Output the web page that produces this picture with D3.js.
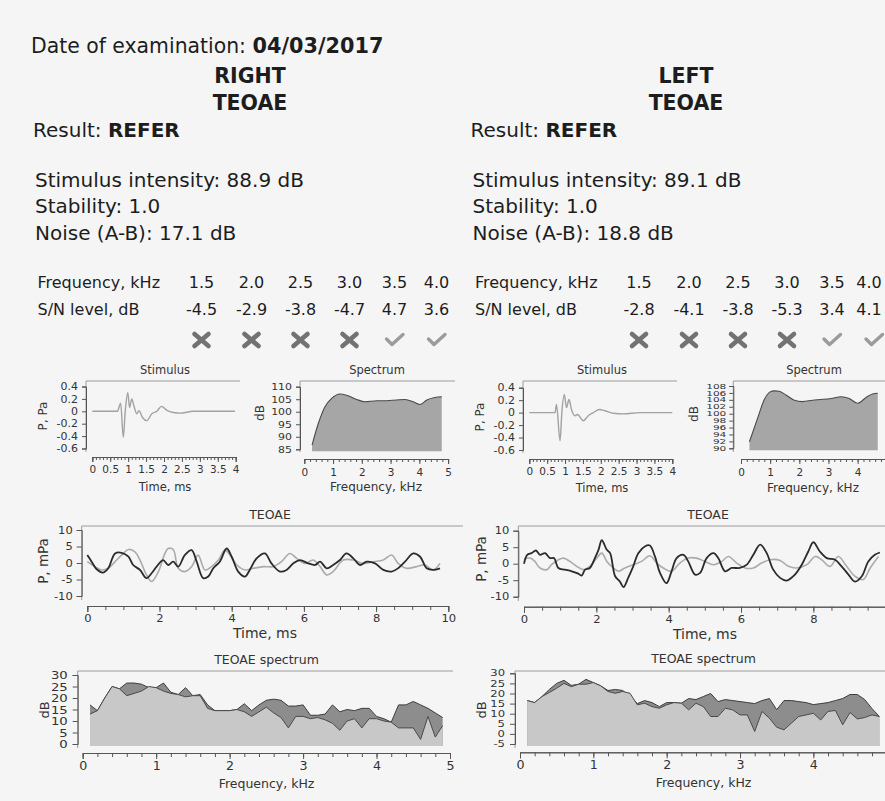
<!DOCTYPE html>
<html><head><meta charset="utf-8">
<script src="https://cdn.jsdelivr.net/npm/d3@7"></script>
<style>
html,body{margin:0;padding:0;background:#f5f5f5;overflow:hidden;}
svg{display:block;font-family:"DejaVu Sans",sans-serif;}
</style></head><body>
<svg id="c" width="885" height="801"></svg>
<script>
// ---------------- DATA ----------------
const examDate = "04/03/2017";
const earNames = ["RIGHT", "LEFT"];
const results = ["REFER", "REFER"];
const stimIntensity = ["88.9", "89.1"];
const stability = ["1.0", "1.0"];
const noiseAB = ["17.1", "18.8"];
const bandFreqs = ["1.5", "2.0", "2.5", "3.0", "3.5", "4.0"];
const snRight = ["-4.5", "-2.9", "-3.8", "-4.7", "4.7", "3.6"];
const snLeft = ["-2.8", "-4.1", "-3.8", "-5.3", "3.4", "4.1"];
const passRight = [false, false, false, false, true, true];
const passLeft = [false, false, false, false, true, true];

// stimulus waveform (ms, Pa)
const stimTimeR = [0,0.7,0.79,0.865,0.92,0.99,1.04,1.1,1.16,1.24,1.3,1.4,1.52,1.66,1.8,1.93,2.07,2.26,2.45,2.82,3.75,3.98];
const stimValR  = [0,0,0.13,-0.42,0.01,0.3,0.06,0.2,0.09,-0.04,0.01,-0.1,-0.15,-0.04,0,0.08,0.02,-0.02,-0.03,0,0,0];
const stimTimeL = [0,0.72,0.76,0.86,0.91,0.98,1.04,1.11,1.18,1.28,1.35,1.51,1.65,1.79,1.96,2.12,2.35,2.63,3.1,4.0];
const stimValL  = [0,0,0.13,-0.45,0,0.29,0.08,0.21,0.05,-0.05,-0.03,-0.13,-0.05,0,0.05,0.03,-0.01,-0.02,0,0];

// stimulus spectrum (kHz, dB)
const specFreqR = [0.27,0.49,0.72,0.95,1.24,1.47,1.82,2.11,2.52,2.86,3.21,3.5,3.79,4.02,4.26,4.54,4.78];
const specDbR   = [86.7,95.4,102,105.3,107.1,106.6,104.9,104,104.4,104.4,104.7,104.9,104,102.9,104.7,105.7,106];
const specFreqL = [0.29,0.57,0.8,1.0,1.14,1.31,1.54,1.83,2.11,2.46,2.74,3.09,3.43,3.71,4.0,4.29,4.51,4.69];
const specDbL   = [91.9,98.7,104.1,106.3,106.6,106.5,105.4,103.9,103.5,103.9,104.1,104.4,104.9,104.4,103.0,104.7,105.7,105.9];

// TEOAE waveforms (ms, mPa): A (dark) and B (light)
const teoaeTimeRA = [0,0.12,0.26,0.44,0.58,0.77,0.95,1.14,1.27,1.46,1.64,1.78,1.92,2.1,2.24,2.38,2.52,2.7,2.89,3.03,3.21,3.35,3.49,3.67,3.86,4.0,4.18,4.37,4.5,4.69,4.92,5.1,5.34,5.52,5.71,5.89,6.12,6.31,6.45,6.63,6.81,7.0,7.18,7.37,7.55,7.74,7.97,8.2,8.43,8.61,8.8,9.03,9.22,9.4,9.58,9.77];
const teoaeValRA  = [2.4,0.4,-1.9,-2.9,-1.6,2.9,3.1,1.9,-0.6,-2.1,-4.6,-3.1,-1.1,0.9,-0.6,0.4,-1.1,2.4,3.9,0.4,-4.6,-4.1,-1.6,0.4,4.4,1.9,-2.6,-4.1,-2.1,1.4,2.9,-0.1,-2.6,-2.1,-0.1,0.9,-0.1,-0.6,0.4,-1.6,-0.6,0.9,2.9,1.4,-0.6,0.4,-0.1,-2.1,-2.6,-1.6,0.4,2.9,1.9,-1.6,-2.1,-1.6];
const teoaeTimeRB = [0,0.21,0.4,0.58,0.77,0.95,1.14,1.32,1.46,1.64,1.78,1.97,2.15,2.24,2.38,2.52,2.7,2.89,3.07,3.26,3.44,3.63,3.81,3.95,4.14,4.37,4.6,4.88,5.15,5.38,5.61,5.8,6.03,6.26,6.45,6.63,6.81,7.09,7.37,7.65,7.92,8.2,8.43,8.61,8.84,9.12,9.35,9.58,9.77];
const teoaeValRB  = [0.4,-1.1,-2.1,-1.6,0.4,2.4,4.1,3.4,0.9,-3.6,-5.6,-2.6,2.9,4.4,4.1,-1.6,-2.6,-1.1,2.4,-2.1,-1.1,0.9,3.9,2.4,-0.6,-2.1,-1.6,-1.1,-1.1,0.4,2.9,1.4,-0.1,0.9,-1.1,-3.6,-2.6,0.9,0.9,-0.1,0.4,0.9,2.4,-0.1,-1.6,-1.1,-0.6,-2.1,-0.1];
const teoaeTimeLA = [0,0.09,0.21,0.33,0.44,0.58,0.72,0.83,0.95,1.13,1.32,1.5,1.59,1.69,1.82,1.96,2.06,2.15,2.29,2.38,2.52,2.65,2.75,2.88,3.02,3.16,3.35,3.48,3.62,3.76,3.94,4.08,4.22,4.41,4.54,4.73,4.87,5.05,5.24,5.37,5.56,5.74,5.97,6.16,6.34,6.53,6.71,6.89,7.08,7.26,7.49,7.68,7.86,8.0,8.18,8.37,8.6,8.78,8.97,9.15,9.34,9.52,9.7,9.84];
const teoaeValLA  = [0,2.7,3.2,4.0,2.7,3.2,1.7,1.7,-1.3,-1.8,-2.3,-3.0,-3.6,-1.8,-1.3,1.7,4.2,7.1,4.2,3.2,-3.8,-5.4,-7.1,-4.3,-0.8,3.2,5.3,5.5,2.2,-2.8,-5.9,-2.3,1.7,2.7,0.7,-3.3,-2.8,1.7,3.2,1.7,-2.3,-1.3,-1.3,-0.3,2.7,5.8,3.2,-1.8,-4.3,-5.1,-3.3,-0.3,3.7,6.5,3.7,1.7,1.2,-0.8,-3.3,-5.4,-3.8,0.7,2.7,3.4];
const teoaeTimeLB = [0,0.17,0.3,0.44,0.63,0.76,0.95,1.09,1.27,1.46,1.64,1.82,2.01,2.15,2.29,2.47,2.61,2.79,3.02,3.25,3.48,3.67,3.85,4.08,4.31,4.54,4.77,5.0,5.24,5.47,5.65,5.88,6.11,6.34,6.57,6.8,7.08,7.31,7.54,7.82,8.05,8.23,8.46,8.69,8.92,9.15,9.38,9.57,9.8];
const teoaeValLB  = [1.4,1.7,0.7,-1.3,-1.8,-0.3,1.2,1.7,0.7,-0.8,-1.8,-0.8,1.7,3.2,0.7,-1.3,-2.3,-1.3,-0.3,0.7,2.4,0.2,-1.3,-2.3,0.2,1.7,1.7,0.7,-0.3,0.7,2.2,0.2,-1.3,-1.3,0.2,1.2,1.0,-0.8,-1.3,-0.3,2.2,1.2,-0.8,2.2,-0.8,-3.8,-4.8,-1.3,2.2];

// TEOAE spectrum (kHz, dB): dark band and light band
const tsFreq = [0.1,0.2,0.3,0.4,0.5,0.6,0.7,0.8,0.9,1.0,1.1,1.2,1.3,1.4,1.5,1.6,1.7,1.8,1.9,2.0,2.1,2.2,2.3,2.4,2.5,2.6,2.7,2.8,2.9,3.0,3.1,3.2,3.3,3.4,3.5,3.6,3.7,3.8,3.9,4.0,4.1,4.2,4.3,4.4,4.5,4.6,4.7,4.8,4.9];
const tsLightR = [13,14.5,20,25,24,21,22,23,25,24.5,23,22,21.5,20.5,21,21,15.5,14.5,14.5,14.5,15,14,12,14,16,13.5,11.5,7,12,12,11,11.5,10.5,9,6,10,11,7,11,11,10,9.5,7,7,7,2,12,3,8];
const tsDarkR  = [17,14.5,20,25,24,26.5,26.5,26,24.5,24.5,26.5,22.5,21.5,24.5,21,21.5,17,14.5,14.5,14.5,15,17.5,14.5,17,19,19.5,19,16.5,16.5,17,12.5,12.5,13,17,14,15,14.5,15.5,15.5,12,11,9.5,17,17,18.5,17,15.5,13.5,11.5];
const tsLightL = [16.5,15.5,18.5,20.5,22.6,25,23.4,24.6,24.6,25.4,23.8,21,20.1,21,20.1,14.4,15.2,13.5,12.7,14.4,15.5,15.2,11.9,15.2,13.5,8.6,8.6,12.7,11.9,9.4,9.4,1.2,11.1,7.8,3.3,2.0,5.3,8.6,9.4,10.2,6.9,11.1,11.6,4.5,10.6,7.4,8.1,9.4,8.6];
const tsDarkL  = [16.5,15.5,18.5,22,25,26.5,24,24.6,27,25.4,23.8,21.5,22,21.5,18.5,15,16.5,15.5,13.5,15.5,15.5,15.2,17.5,17,18.5,20,16,17,16.5,16,15.5,15,16.5,17.5,12,16.5,16.5,16,15.5,14.5,15,15.5,16.5,17.5,19.5,19.5,17,12.5,8.6];

// tick labels
const stimTimeTicks = [0,0.5,1,1.5,2,2.5,3,3.5,4];
const stimPaTicks = [-0.6,-0.4,-0.2,0,0.2,0.4];
const specFreqTicksR = [0,1,2,3,4,5];
const specFreqTicksL = [0,1,2,3,4];
const specDbTicksR = [85,90,95,100,105,110];
const specDbTicksL = [90,92,94,96,98,100,102,104,106,108];
const teoaeTimeTicksR = [0,2,4,6,8,10];
const teoaeTimeTicksL = [0,2,4,6,8];
const teoaeMpaTicks = [-10,-5,0,5,10];
const tsDbTicksR = [0,5,10,15,20,25,30];
const tsDbTicksL = [-5,0,5,10,15,20,25,30];

// ---------------- LAYOUT / DRAW ----------------
const svg = d3.select("#c");
const W = 885;
const INK = "#1d1d1d", AX = "#555", FRAME = "#9c9c9c";
const fmt = d => String(+(+d).toFixed(2));

function txt(x, y, s, size, opts = {}) {
  return svg.append("text").attr("x", x).attr("y", y)
    .attr("font-size", size).attr("fill", opts.fill || INK)
    .attr("font-weight", opts.bold ? "bold" : null)
    .attr("text-anchor", opts.anchor || "start").text(s);
}
function vlabel(s, cx, cy, size) {
  svg.append("text").attr("transform", `translate(${cx},${cy}) rotate(-90)`)
    .attr("text-anchor", "middle").attr("dy", "0.36em")
    .attr("font-size", size).attr("fill", "#333").text(s);
}
function stretch(sel, sx) {
  sel.each(function () {
    const t = d3.select(this); const x = +t.attr("x") || 0;
    t.attr("transform", `translate(${x * (1 - sx)},0) scale(${sx},1)`);
  });
}
function styleAxis(g, fs, sx) {
  g.attr("font-family", null).attr("font-size", null);
  g.selectAll("path.domain").attr("stroke", AX);
  g.selectAll(".tick line").attr("stroke", AX);
  const t = g.selectAll(".tick text").attr("fill", "#333").attr("font-size", fs);
  if (sx && sx !== 1) stretch(t, sx);
}

function panel(c) {
  const x = d3.scaleLinear().domain(c.xd).range(c.xr);
  const y = d3.scaleLinear().domain(c.yd).range(c.yr);
  const g = svg.append("g");
  g.append("path").attr("d", `M${c.right},${c.top}H${c.axisX}V${c.frameBot}`)
    .attr("fill", "none").attr("stroke", FRAME).attr("stroke-width", 1);
  const ya = g.append("g").attr("transform", `translate(${c.axisX},0)`)
    .call(d3.axisLeft(y).tickValues(c.yTicks).tickSize(c.ytick).tickPadding(c.ypad).tickFormat(fmt));
  styleAxis(ya, c.yfs, c.ysx);
  const xm = g.append("g").attr("transform", `translate(0,${c.xAxisY})`)
    .call(d3.axisBottom(x).tickValues(c.xMinor).tickSize(c.minorTick).tickSizeOuter(0).tickFormat(""));
  styleAxis(xm, 1);
  const xa = g.append("g").attr("transform", `translate(0,${c.xAxisY})`)
    .call(d3.axisBottom(x).tickValues(c.xTicks).tickSize(c.majorTick).tickPadding(c.xpad).tickFormat(fmt));
  styleAxis(xa, c.xfs, c.xsx);
  txt(c.titleX, c.titleY, c.title, c.titleFs, { anchor: "middle", fill: "#333" });
  txt(c.xlabX, c.xlabY, c.xlab, c.xlabFs, { anchor: "middle", fill: "#333" });
  vlabel(c.ylab, c.ylabX, c.ylabY, c.ylabFs);
  return { g, x, y };
}

// ---- header texts
const hdr = svg.append("text").attr("x", 31).attr("y", 53).attr("font-size", 20.4).attr("fill", INK);
hdr.append("tspan").text("Date of examination: ");
hdr.append("tspan").attr("font-weight", "bold").attr("font-size", 20.8).text(examDate);

const cols = [
  { earX: 250, resX: 33, infoX: 35, tabX: 37.5 },
  { earX: 686, resX: 470.5, infoX: 472.5, tabX: 475 }
];
const colCenters = [164, 214, 263, 312, 357, 399];
const snAll = [snRight, snLeft], passAll = [passRight, passLeft];

cols.forEach((c, i) => {
  txt(c.earX, 82.5, earNames[i], 20.5, { bold: true, anchor: "middle" });
  txt(c.earX, 110, "TEOAE", 20.5, { bold: true, anchor: "middle" });
  const r = svg.append("text").attr("x", c.resX).attr("y", 136.5).attr("font-size", 20).attr("fill", INK);
  r.append("tspan").text("Result: ");
  r.append("tspan").attr("font-weight", "bold").text(results[i]);
  txt(c.infoX, 186.5, `Stimulus intensity: ${stimIntensity[i]} dB`, 20);
  txt(c.infoX, 213.3, `Stability: ${stability[i]}`, 20);
  txt(c.infoX, 240, `Noise (A-B): ${noiseAB[i]} dB`, 20);
  txt(c.tabX, 288.3, "Frequency, kHz", 16);
  txt(c.tabX, 315.3, "S/N level, dB", 16);
  bandFreqs.forEach((f, k) => {
    const cx = c.tabX + colCenters[k];
    const tx = Math.min(cx, W - 16);   // keep the last column inside the page
    txt(tx, 288.3, f, 16, { anchor: "middle" });
    txt(tx, 315.3, snAll[i][k], 16, { anchor: "middle" });
    const m = svg.append("g").attr("transform", `translate(${cx},340)`);
    if (passAll[i][k]) {
      m.append("path").attr("d", "M-8,-1L-2.5,4.5L8.5,-5.5").attr("fill", "none")
        .attr("stroke", "#9b9b9b").attr("stroke-width", 3.4).attr("stroke-linecap", "round").attr("stroke-linejoin", "round");
    } else {
      m.append("path").attr("d", "M-7,-6L7,6M-7,6L7,-6").attr("fill", "none")
        .attr("stroke", "#727272").attr("stroke-width", 4.6).attr("stroke-linecap", "round");
    }
  });
});

// ---- panel configs
const stimMinor = d3.range(0, 4.001, 0.1);
const specMinor = d3.range(0, 5.001, 0.2);
const teoaeMinor = d3.range(0, 10.001, 0.5);
const tsMinor = d3.range(0, 5.001, 0.2);

function stimCfg(o) {
  return Object.assign({ xd: [0, 4], yd: [-0.6, 0.4], top: 381, yTicks: stimPaTicks, ytick: 4, ypad: 4, yfs: 10, ysx: 1.1,
    xTicks: stimTimeTicks, xMinor: stimMinor, minorTick: 3, majorTick: 5, xpad: 4, xfs: 10, xsx: 1.05,
    title: "Stimulus", titleFs: 11.5, xlab: "Time, ms", xlabFs: 11.5, ylab: "P, Pa", ylabFs: 12 }, o);
}
function specCfg(o) {
  return Object.assign({ xd: [0, 5], top: 381, ytick: 4, ypad: 4, yfs: 9.5, ysx: 1.15,
    xMinor: specMinor, minorTick: 3, majorTick: 5, xpad: 5, xfs: 10, xsx: 1.05,
    title: "Spectrum", titleFs: 11.5, xlab: "Frequency, kHz", xlabFs: 12, ylab: "dB", ylabFs: 12 }, o);
}
function teoaeCfg(o) {
  return Object.assign({ xd: [0, 10], yd: [-10, 10], top: 526, yTicks: teoaeMpaTicks, ytick: 5, ypad: 4, yfs: 10, ysx: 1.15,
    xMinor: teoaeMinor, minorTick: 4, majorTick: 6, xpad: 3, xfs: 10.5, xsx: 1.1,
    title: "TEOAE", titleFs: 12.5, xlab: "Time, ms", xlabFs: 14, ylab: "P, mPa", ylabFs: 13.5 }, o);
}
function tsCfg(o) {
  return Object.assign({ xd: [0, 5], top: 671, ytick: 5, ypad: 5, yfs: 11, ysx: 1.2,
    xMinor: tsMinor, minorTick: 4, majorTick: 6, xpad: 3, xfs: 11.5, xsx: 1.1,
    title: "TEOAE spectrum", titleFs: 12.5, xlab: "Frequency, kHz", xlabFs: 12.5, ylab: "dB", ylabFs: 13 }, o);
}

const panels = [
  { stim: stimCfg({ xr: [92.3, 235.7], yr: [448.5, 386.5], axisX: 86, right: 240, frameBot: 452, xAxisY: 457,
      titleX: 165, titleY: 373.5, xlabX: 165, xlabY: 491, ylabX: 42.5, ylabY: 416 }),
    spec: specCfg({ xr: [304.3, 448.1], yd: [85, 110], yr: [449.3, 386.7], yTicks: specDbTicksR, xTicks: specFreqTicksR,
      axisX: 300, right: 455, frameBot: 452, xAxisY: 459,
      titleX: 377, titleY: 373.5, xlabX: 376, xlabY: 491, ylabX: 260, ylabY: 413 }),
    teoae: teoaeCfg({ xr: [87.3, 448.3], yr: [596, 530], xTicks: teoaeTimeTicksR, axisX: 81.7, right: 463, frameBot: 600, xAxisY: 606,
      titleX: 270, titleY: 519, xlabX: 265, xlabY: 638, ylabX: 43.5, ylabY: 561 }),
    ts: tsCfg({ xr: [82.7, 450], yd: [0, 30], yr: [744, 675], yTicks: tsDbTicksR, xTicks: specFreqTicksR,
      axisX: 77.7, right: 453, frameBot: 748, xAxisY: 753,
      titleX: 266.5, titleY: 664, xlabX: 266.5, xlabY: 788, ylabX: 44, ylabY: 710 }),
    stimT: stimTimeR, stimV: stimValR, specF: specFreqR, specD: specDbR,
    tA: teoaeTimeRA, vA: teoaeValRA, tB: teoaeTimeRB, vB: teoaeValRB, tsL: tsLightR, tsD: tsDarkR },
  { stim: stimCfg({ xr: [529.3, 672.3], yr: [450, 387.7], axisX: 523, right: 677, frameBot: 453, xAxisY: 459,
      titleX: 602, titleY: 374, xlabX: 602, xlabY: 492, ylabX: 480, ylabY: 417 }),
    spec: specCfg({ xr: [741, 886.8], yd: [90, 108], yr: [448.3, 386], yTicks: specDbTicksL, xTicks: specFreqTicksL,
      axisX: 733.3, right: 890, frameBot: 452, xAxisY: 459, yfs: 6.6, ysx: 1.6, ypad: 3,
      titleX: 814, titleY: 373.5, xlabX: 813, xlabY: 492, ylabX: 694, ylabY: 414 }),
    teoae: teoaeCfg({ xr: [524, 885.7], yr: [596.7, 530.7], xTicks: teoaeTimeTicksL, axisX: 518.3, right: 890, frameBot: 601, xAxisY: 606.7,
      titleX: 708, titleY: 518.5, xlabX: 705, xlabY: 639, ylabX: 481, ylabY: 559 }),
    ts: tsCfg({ xr: [520, 886.7], yd: [-5, 30], yr: [744, 673.3], yTicks: tsDbTicksL, xTicks: specFreqTicksL,
      axisX: 515, right: 890, frameBot: 748, xAxisY: 752.3, yfs: 8.3, ysx: 1.4,
      titleX: 703.5, titleY: 663, xlabX: 703.5, xlabY: 787, ylabX: 481, ylabY: 710 }),
    stimT: stimTimeL, stimV: stimValL, specF: specFreqL, specD: specDbL,
    tA: teoaeTimeLA, vA: teoaeValLA, tB: teoaeTimeLB, vB: teoaeValLB, tsL: tsLightL, tsD: tsDarkL }
];

panels.forEach(p => {
  // Stimulus
  const s = panel(p.stim);
  s.g.append("path").datum(p.stimT.map((t, i) => [t, p.stimV[i]]))
    .attr("d", d3.line().x(d => s.x(d[0])).y(d => s.y(d[1])).curve(d3.curveMonotoneX))
    .attr("fill", "none").attr("stroke", "#a2a2a2").attr("stroke-width", 1.4);

  // Spectrum
  const sp = panel(p.spec);
  const spData = p.specF.map((f, i) => [f, p.specD[i]]);
  const base = p.spec.yd[0];
  sp.g.insert("path", ":first-child").datum(spData)
    .attr("d", d3.area().x(d => sp.x(d[0])).y0(sp.y(base) + 2).y1(d => sp.y(d[1])).curve(d3.curveMonotoneX))
    .attr("fill", "#a6a6a6");
  sp.g.append("path").datum(spData)
    .attr("d", d3.line().x(d => sp.x(d[0])).y(d => sp.y(d[1])).curve(d3.curveMonotoneX))
    .attr("fill", "none").attr("stroke", "#4a4a4a").attr("stroke-width", 1.1);

  // TEOAE waveform
  const te = panel(p.teoae);
  const tl = d3.line().x(d => te.x(d[0])).y(d => te.y(d[1])).curve(d3.curveCatmullRom.alpha(0.5));
  te.g.append("path").datum(p.tB.map((t, i) => [t, p.vB[i]])).attr("d", tl)
    .attr("fill", "none").attr("stroke", "#ababab").attr("stroke-width", 1.6);
  te.g.append("path").datum(p.tA.map((t, i) => [t, p.vA[i]])).attr("d", tl)
    .attr("fill", "none").attr("stroke", "#2b2b2b").attr("stroke-width", 1.8);

  // TEOAE spectrum
  const ts = panel(p.ts);
  const b0 = ts.y(p.ts.yd[0]) + 2;
  const dark = tsFreq.map((f, i) => [f, p.tsD[i]]);
  const light = tsFreq.map((f, i) => [f, p.tsL[i]]);
  const ar = d3.area().x(d => ts.x(d[0])).y0(b0).y1(d => ts.y(d[1]));
  const ln = d3.line().x(d => ts.x(d[0])).y(d => ts.y(d[1]));
  const gg = ts.g.insert("g", ":first-child");
  gg.append("path").datum(dark).attr("d", ar).attr("fill", "#8d8d8d");
  gg.append("path").datum(dark).attr("d", ln).attr("fill", "none").attr("stroke", "#3c3c3c").attr("stroke-width", 1);
  gg.append("path").datum(light).attr("d", ar).attr("fill", "#c8c8c8");
  gg.append("path").datum(light).attr("d", ln).attr("fill", "none").attr("stroke", "#4a4a4a").attr("stroke-width", 1);
});
</script>
</body></html>
